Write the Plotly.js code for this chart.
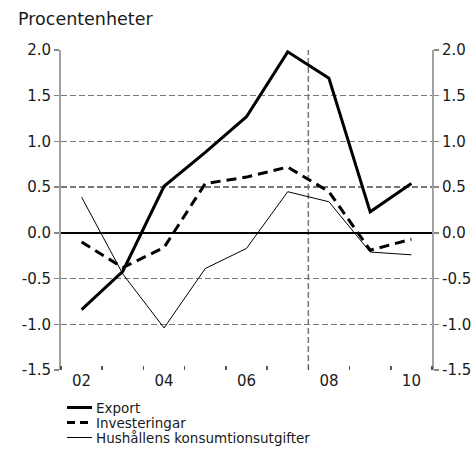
<!DOCTYPE html>
<html>
<head>
<meta charset="utf-8">
<script src="https://cdn.plot.ly/plotly-3.0.1.min.js"></script>
<style>html,body{margin:0;padding:0;background:#fff;}#chart{width:475px;height:455px;}</style>
</head>
<body>
<div id="chart"></div>
<script>
// Data
const years = [2002, 2003, 2004, 2005, 2006, 2007, 2008, 2009, 2010];
const exportVals = [-0.84, -0.42, 0.51, 0.88, 1.27, 1.98, 1.69, 0.23, 0.54];
const investVals = [-0.10, -0.38, -0.16, 0.54, 0.61, 0.72, 0.45, -0.19, -0.07];
const hushallVals = [0.39, -0.45, -1.04, -0.39, -0.17, 0.45, 0.34, -0.21, -0.24];
const seriesNames = ["Export", "Investeringar", "Hushållens konsumtionsutgifter"];
const xTickVals = [2002, 2004, 2006, 2008, 2010];
const xTickText = ["02", "04", "06", "08", "10"];
const yTickVals = [-1.5, -1.0, -0.5, 0.0, 0.5, 1.0, 1.5, 2.0];
const yTickText = ["-1.5", "-1.0", "-0.5", "0.0", "0.5", "1.0", "1.5", "2.0"];
const forecastStart = 2007.5;

const FAM = "DejaVu Sans, Verdana, sans-serif";
const TXT = "#1a1a1a";
const font = {family: FAM, size: 15, color: TXT};

const W = 475, H = 455;
const M = {l: 61, r: 43, t: 50, b: 85};
const pw = W - M.l - M.r, ph = H - M.t - M.b;
const px2x = X => (X - M.l) / pw;
const px2y = Y => (H - M.b - Y) / ph;

const lineStyles = [
  {color: "#000", width: 3},
  {color: "#000", width: 3, dash: "10px,6px"},
  {color: "#000", width: 1}
];
const seriesData = [exportVals, investVals, hushallVals];

const traces = seriesData.map((vals, i) => ({
  x: years, y: vals, name: seriesNames[i], mode: "lines", line: lineStyles[i], showlegend: false
}));
traces.push({x: years, y: exportVals, yaxis: "y2", mode: "lines", opacity: 0, showlegend: false, hoverinfo: "skip", line: {width: 0}});

const yCommon = {
  range: [-1.5, 2.0],
  tickvals: yTickVals,
  ticktext: yTickText,
  ticks: "outside",
  ticklen: 5,
  tickcolor: "#888",
  tickwidth: 1.5,
  showline: true,
  linecolor: "#a0a0a0",
  linewidth: 2,
  tickfont: font,
  fixedrange: true
};

// Manual legend (samples + labels)
const legendRowsY = [407.5, 422.5, 437.5];
const shapes = [{
  type: "line", xref: "x", yref: "paper", x0: forecastStart, x1: forecastStart, y0: 0, y1: 1,
  line: {color: "#777", width: 1.5, dash: "6px,3px"}, layer: "below"
}];
const annotations = [{
  text: "Procentenheter", xref: "paper", yref: "paper", x: px2x(16), y: px2y(19), xanchor: "left", yanchor: "middle",
  showarrow: false, font: {family: FAM, size: 17.5, color: TXT}
}];
seriesNames.forEach((name, i) => {
  const yy = px2y(legendRowsY[i]);
  shapes.push({type: "line", xref: "paper", yref: "paper", x0: px2x(67), x1: px2x(92), y0: yy, y1: yy,
    line: Object.assign({}, lineStyles[i], i === 1 ? {dash: "8px,5px"} : {})});
  annotations.push({text: name, xref: "paper", yref: "paper", x: px2x(95), y: yy, xanchor: "left", yanchor: "middle",
    showarrow: false, borderpad: 0, font: {family: FAM, size: 13.5, color: TXT}});
});

const layout = {
  width: W,
  height: H,
  margin: M,
  paper_bgcolor: "#fff",
  plot_bgcolor: "#fff",
  font: font,
  showlegend: false,
  xaxis: {
    range: [2001.5, 2010.5],
    tickvals: xTickVals,
    ticktext: xTickText,
    ticks: "",
    showgrid: false,
    zeroline: false,
    showline: false,
    tickfont: font,
    minor: {tick0: 2001.5, dtick: 1, ticks: "inside", ticklen: 4, tickcolor: "#555", tickwidth: 1.5, showgrid: false},
    fixedrange: true
  },
  yaxis: Object.assign({}, yCommon, {
    side: "left",
    showgrid: true,
    gridcolor: "#777",
    gridwidth: 1.5,
    griddash: "6px,3px",
    zeroline: true,
    zerolinecolor: "#000",
    zerolinewidth: 1.5
  }),
  yaxis2: Object.assign({}, yCommon, {
    side: "right",
    overlaying: "y",
    showgrid: false,
    zeroline: false
  }),
  shapes: shapes,
  annotations: annotations
};

Plotly.newPlot("chart", traces, layout, {staticPlot: true, displayModeBar: false});
</script>
</body>
</html>
